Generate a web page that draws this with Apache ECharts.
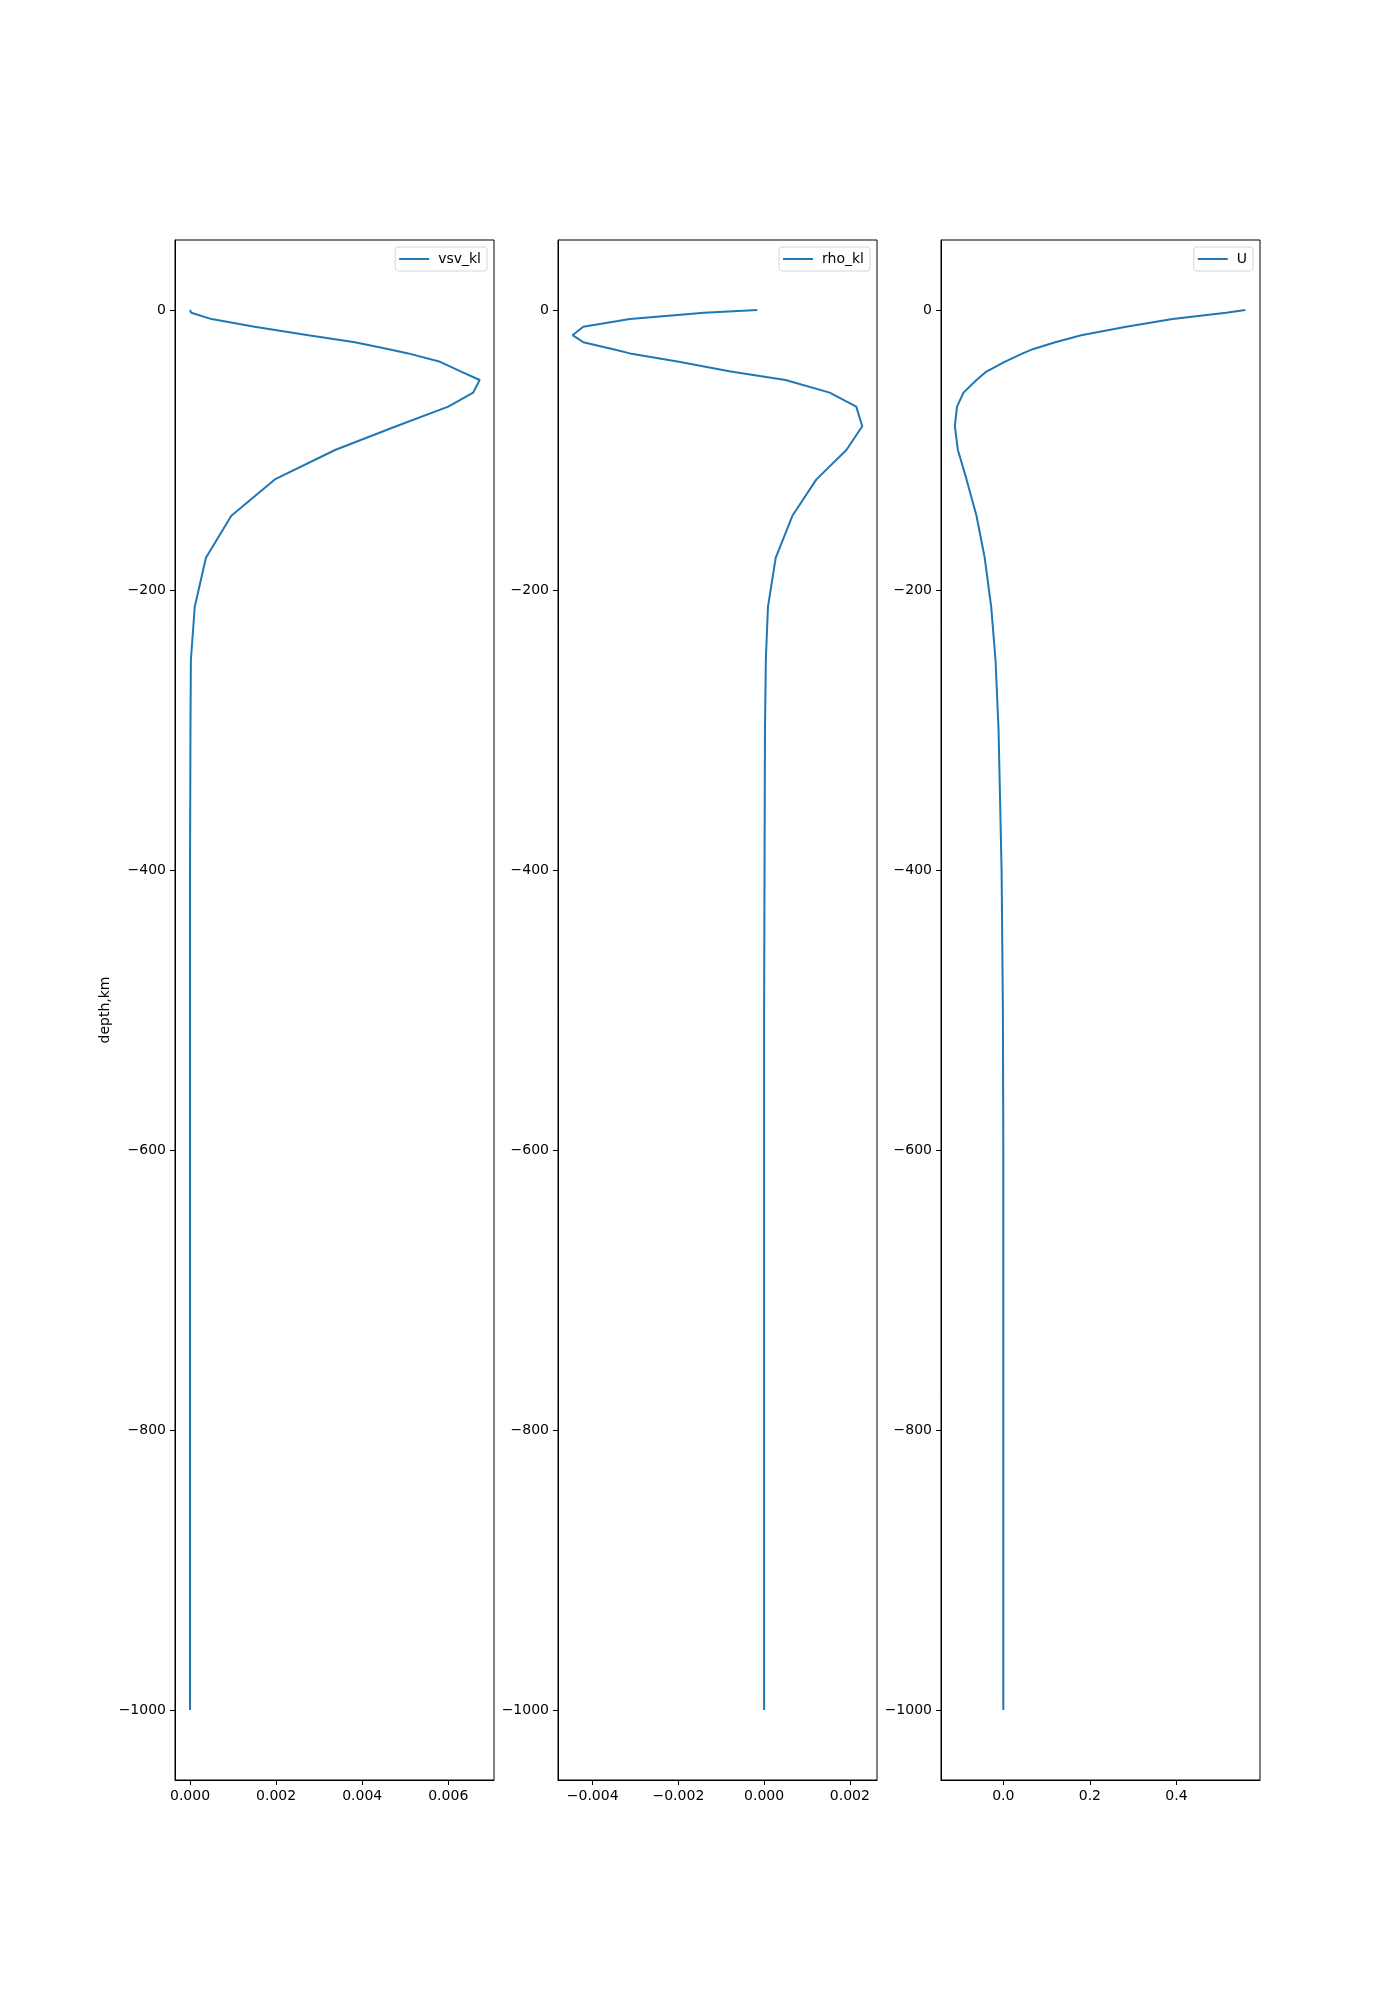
<!DOCTYPE html>
<html>
<head>
<meta charset="utf-8">
<script src="https://cdn.jsdelivr.net/npm/echarts@6/dist/echarts.min.js"></script>
<style>
html,body{margin:0;padding:0;background:#fff;}
#chart{width:1400px;height:2000px;}
</style>
</head>
<body>
<div id="chart"></div>
<script>
// depth samples (km), shared by all three kernels
const depth = [0, -2, -6.5, -12, -18, -23, -28, -31, -37, -44, -50, -59, -69, -83, -100, -121, -147, -177, -212, -250, -300, -400, -500, -600, -700, -800, -900, -1000];
const vsv_kl = [0.0, 0.00003, 0.0005, 0.0015, 0.00275, 0.00383, 0.00462, 0.00507, 0.00581, 0.0063, 0.00673, 0.00658, 0.006, 0.00479, 0.00337, 0.00197, 0.00096, 0.00037, 0.00011, 0.00002, 0.00001, 0, 0, 0, 0, 0, 0, 0];
const rho_kl = [-0.00016, -0.0014, -0.00313, -0.00422, -0.00447, -0.00422, -0.00352, -0.00313, -0.00199, -0.00078, 0.0005, 0.00153, 0.00215, 0.00229, 0.00192, 0.00122, 0.00066, 0.00027, 0.00009, 0.00004, 0.00002, 0.00001, 0, 0, 0, 0, 0, 0];
const U = [0.559, 0.515, 0.391, 0.284, 0.18, 0.12, 0.068, 0.045, 0.003, -0.039, -0.062, -0.092, -0.107, -0.112, -0.105, -0.085, -0.062, -0.043, -0.028, -0.018, -0.011, -0.004, -0.001, 0, 0, 0, 0, 0];

const seriesNames = ['vsv_kl', 'rho_kl', 'U'];
const seriesValues = [vsv_kl, rho_kl, U];
const yTicks = [0, -200, -400, -600, -800, -1000];
const xTicks = [
  [0, 0.002, 0.004, 0.006],
  [-0.004, -0.002, 0, 0.002],
  [0, 0.2, 0.4]
];
const xDecimals = [3, 3, 1];
const xRanges = [[-0.000349, 0.007063], [-0.004809, 0.002634], [-0.144, 0.5931]];
const yRange = [-1050, 50];

const FONT = 'DejaVu Sans';
const gridLefts = [175, 558, 941];
const gridW = 319, gridTop = 240, gridH = 1540;
const legendRights = [1400 - 487, 1400 - 870, 1400 - 1253];

function fmt(v, d) {
  let s = Math.abs(v) < 1e-12 ? (0).toFixed(d) : v.toFixed(d);
  return s.replace('-', '\u2212');
}

const grids = [], xAxes = [], yAxes = [], series = [], legends = [];
for (let i = 0; i < 3; i++) {
  grids.push({left: gridLefts[i], top: gridTop, width: gridW, height: gridH,
    show: true, borderColor: '#000', borderWidth: 1, backgroundColor: '#fff', containLabel: false});
  xAxes.push({type: 'value', gridIndex: i, min: xRanges[i][0], max: xRanges[i][1],
    splitLine: {show: false},
    axisLine: {show: true, onZero: false, lineStyle: {color: '#000', width: 1}},
    axisTick: {show: true, length: 5, lineStyle: {color: '#000', width: 1}, customValues: xTicks[i]},
    axisLabel: {show: true, color: '#000', fontFamily: FONT, fontSize: 14, margin: 9,
      customValues: xTicks[i], formatter: (v) => fmt(v, xDecimals[i])}
  });
  yAxes.push({type: 'value', gridIndex: i, min: yRange[0], max: yRange[1],
    name: i === 0 ? 'depth,km' : '', nameLocation: 'middle', nameGap: 63, nameRotate: 90,
    nameTextStyle: {color: '#000', fontFamily: FONT, fontSize: 14},
    splitLine: {show: false},
    axisLine: {show: true, onZero: false, lineStyle: {color: '#000', width: 1}},
    axisTick: {show: true, length: 5, lineStyle: {color: '#000', width: 1}, customValues: yTicks},
    axisLabel: {show: true, color: '#000', fontFamily: FONT, fontSize: 14, margin: 9,
      customValues: yTicks, formatter: (v) => fmt(v, 0)}
  });
  series.push({type: 'line', name: seriesNames[i], xAxisIndex: i, yAxisIndex: i,
    data: depth.map((d, k) => [seriesValues[i][k], d]),
    symbol: 'none', showSymbol: false,
    lineStyle: {color: '#1f77b4', width: 2}, itemStyle: {color: '#1f77b4'},
    animation: false});
  legends.push({data: [seriesNames[i]], right: legendRights[i], top: 247,
    orient: 'vertical', icon: 'path://M0,0 L30,0 L30,2 L0,2 Z',
    itemWidth: 30, itemHeight: 2, itemGap: 0,
    padding: [5, 6, 5, 4], borderColor: '#d6d6d6', borderWidth: 1, borderRadius: 3,
    backgroundColor: 'rgba(255,255,255,0.8)',
    textStyle: {color: '#000', fontFamily: FONT, fontSize: 14, padding: [0, 0, 0, 4]},
    selectedMode: false});
}

const chart = echarts.init(document.getElementById('chart'), null, {renderer: 'canvas'});
chart.setOption({
  animation: false,
  backgroundColor: '#fff',
  grid: grids, xAxis: xAxes, yAxis: yAxes, series: series, legend: legends
});
</script>
</body>
</html>
